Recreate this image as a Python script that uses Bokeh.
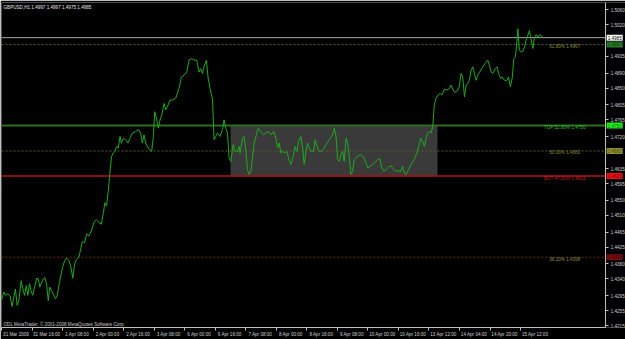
from bokeh.plotting import figure
from bokeh.models import Range1d, LinearAxis, FixedTicker, Label, PrintfTickFormatter, BoxAnnotation
from bokeh.embed import file_html
from bokeh.resources import INLINE
from bokeh.core.properties import value

# ---------------- data ----------------
symbol_title = "GBPUSD,H1  1.4997 1.4997 1.4975 1.4985"
copyright_text = "ODL MetaTrader, \u00a9 2001-2008 MetaQuotes Software Corp."

hour_index = [
    0, 1.2, 2.1, 3.3, 4.4, 5.6, 6.5, 7.3, 8.2, 9.1,
    10.3, 11.2, 12.1, 13.0, 13.8, 14.7, 15.6, 16.4, 17.5, 18.4,
    19.3, 20.1, 21.0, 21.9, 22.7, 23.6, 24.5, 25.3, 26.6, 27.4,
    28.3, 29.2, 30.4, 31.8, 33.1, 34.1, 35.3, 36.2, 37.4, 38.3,
    39.4, 40.6, 41.5, 42.3, 43.6, 44.6, 45.8, 47.1, 48.4, 49.7,
    51.1, 52.3, 53.4, 54.2, 55.1, 56.0, 56.8, 57.7, 58.6, 59.4,
    60.3, 61.2, 62.1, 62.8, 63.9, 65.1, 66.3, 67.3, 68.6, 70.3,
    71.7, 72.9, 73.8, 74.7, 75.6, 76.8, 77.8, 78.7, 79.6, 80.3,
    81.2, 82.2, 83.1, 84.0, 85.2, 86.1, 86.9, 88.3, 89.6, 91.3,
    93.0, 94.3, 95.7, 97.1, 98.3, 99.7, 100.9, 102.3, 103.5, 104.4,
    105.3, 106.1, 107.4, 108.2, 109.3, 110.6, 111.4, 112.3, 113.2, 114.5,
    115.8, 116.6, 117.5, 118.4, 119.3, 120.2, 121.4, 122.4, 123.7, 124.5,
    125.0, 126.3, 127.1, 128.0, 128.9, 129.8, 130.7, 131.5, 132.4, 133.6,
    134.5, 135.9, 137.3, 138.5, 139.9, 141.1, 142.6, 143.8, 144.7, 145.5,
    146.4, 147.3, 148.5, 149.5, 150.7, 151.6, 152.5, 153.9, 154.8, 155.7,
    156.9, 157.8, 158.6, 159.5, 160.4, 161.2, 162.1, 163.5, 164.4, 165.3,
    166.5, 167.7, 169.1, 170.5, 171.7, 173.0, 173.8, 174.4, 175.3, 176.1,
    177.0, 177.9, 178.8, 179.6, 180.5, 181.4, 182.2, 183.1, 184.0, 184.9,
    185.7, 186.6, 188.0, 189.3, 190.1, 191.0, 191.9, 193.2, 194.5, 195.7,
    197.1, 198.3, 199.2, 200.3, 201.5, 202.9, 204.1, 205.5, 206.7, 207.9,
    209.0, 210.2, 211.1, 212.0, 212.9, 214.6, 216.3, 217.7, 218.9, 219.8,
    220.7, 221.6, 222.5, 223.4, 224.2, 225.1, 226.0, 226.8, 227.7, 228.9,
    230.0, 230.9, 232.1, 233.5, 234.7, 235.6, 236.5, 237.3, 238.2, 239.1,
    239.9, 240.8, 241.7, 242.6, 243.5, 244.4, 245.2, 246.1, 247.0, 247.8,
    248.7, 249.6, 250.8, 252.2, 253.4, 254.8, 255.7, 256.6, 257.5, 258.7,
    259.7, 260.6, 261.5, 262.4, 263.6, 265.0, 265.7, 266.7, 267.6, 268.5,
    269.3, 270.1, 270.6, 271.4, 272.3, 273.2, 274.1, 274.9, 275.8, 276.7,
    277.6, 278.5, 279.3, 280.2, 281.1, 281.9, 282.8, 283.7,
]

close = [
    1.4282, 1.4305, 1.4296, 1.4300, 1.4296, 1.4266, 1.4292, 1.4313, 1.4269, 1.4282,
    1.4335, 1.4313, 1.4296, 1.4322, 1.4296, 1.4327, 1.4305, 1.4296, 1.4322, 1.4342,
    1.4340, 1.4318, 1.4331, 1.4340, 1.4344, 1.4327, 1.4282, 1.4318, 1.4305, 1.4296,
    1.4287, 1.4296, 1.4331, 1.4367, 1.4389, 1.4396, 1.4389, 1.4375, 1.4342, 1.4380,
    1.4393, 1.4398, 1.4420, 1.4439, 1.4437, 1.4460, 1.4455, 1.4468, 1.4491, 1.4498,
    1.4491, 1.4486, 1.4517, 1.4544, 1.4535, 1.4579, 1.4623, 1.4668, 1.4677, 1.4681,
    1.4694, 1.4690, 1.4721, 1.4703, 1.4716, 1.4712, 1.4703, 1.4716, 1.4730, 1.4734,
    1.4739, 1.4730, 1.4703, 1.4725, 1.4703, 1.4690, 1.4685, 1.4681, 1.4721, 1.4787,
    1.4770, 1.4743, 1.4765, 1.4778, 1.4809, 1.4792, 1.4800, 1.4818, 1.4818, 1.4823,
    1.4849, 1.4880, 1.4885, 1.4893, 1.4925, 1.4929, 1.4925, 1.4925, 1.4893, 1.4902,
    1.4889, 1.4907, 1.4925, 1.4880, 1.4849, 1.4818, 1.4712, 1.4721, 1.4730, 1.4721,
    1.4739, 1.4765, 1.4743, 1.4730, 1.4663, 1.4654, 1.4699, 1.4681, 1.4681, 1.4694,
    1.4677, 1.4716, 1.4721, 1.4685, 1.4632, 1.4619, 1.4628, 1.4663, 1.4703, 1.4725,
    1.4743, 1.4734, 1.4725, 1.4730, 1.4734, 1.4725, 1.4734, 1.4716, 1.4690, 1.4703,
    1.4677, 1.4681, 1.4677, 1.4681, 1.4659, 1.4646, 1.4659, 1.4694, 1.4681, 1.4707,
    1.4721, 1.4690, 1.4646, 1.4681, 1.4703, 1.4690, 1.4681, 1.4681, 1.4712, 1.4694,
    1.4681, 1.4681, 1.4690, 1.4703, 1.4712, 1.4721, 1.4730, 1.4743, 1.4721, 1.4659,
    1.4654, 1.4672, 1.4681, 1.4654, 1.4716, 1.4703, 1.4668, 1.4619, 1.4628, 1.4659,
    1.4663, 1.4668, 1.4672, 1.4668, 1.4663, 1.4650, 1.4637, 1.4641, 1.4646, 1.4652,
    1.4659, 1.4661, 1.4637, 1.4628, 1.4632, 1.4639, 1.4643, 1.4632, 1.4628, 1.4630,
    1.4626, 1.4641, 1.4623, 1.4619, 1.4628, 1.4646, 1.4659, 1.4677, 1.4699, 1.4716,
    1.4707, 1.4694, 1.4716, 1.4730, 1.4734, 1.4730, 1.4747, 1.4805, 1.4823, 1.4832,
    1.4836, 1.4832, 1.4847, 1.4845, 1.4849, 1.4858, 1.4847, 1.4840, 1.4839, 1.4845,
    1.4854, 1.4889, 1.4880, 1.4827, 1.4858, 1.4863, 1.4871, 1.4898, 1.4907, 1.4889,
    1.4871, 1.4885, 1.4895, 1.4907, 1.4916, 1.4925, 1.4911, 1.4893, 1.4889, 1.4902,
    1.4907, 1.4887, 1.4876, 1.4880, 1.4871, 1.4871, 1.4880, 1.4854, 1.4876, 1.4929,
    1.4933, 1.4973, 1.5009, 1.4951, 1.4947, 1.4948, 1.4960, 1.4978, 1.4991, 1.5004,
    1.4978, 1.4956, 1.4986, 1.4993, 1.4986, 1.4993, 1.4991, 1.4985,
]

date_tick_hours = [0, 16, 32, 48, 64, 80, 96, 112, 128, 144, 160, 176, 192, 208, 224, 240, 256, 272]
date_tick_labels = ["31 Mar 2009", "31 Mar 16:00", "1 Apr 08:00", "2 Apr 00:00", "2 Apr 16:00",
                    "3 Apr 08:00", "6 Apr 00:00", "6 Apr 16:00", "7 Apr 08:00", "8 Apr 00:00",
                    "8 Apr 16:00", "9 Apr 08:00", "10 Apr 00:00", "10 Apr 16:00", "13 Apr 12:00",
                    "14 Apr 04:00", "14 Apr 20:00", "15 Apr 12:00"]

price_ticks = [1.5060, 1.5020, 1.4935, 1.4890, 1.4850, 1.4805, 1.4765, 1.4720, 1.4635,
               1.4595, 1.4550, 1.4510, 1.4465, 1.4425, 1.4380, 1.4340, 1.4295, 1.4255, 1.4215]

fib_names = ["61.80%", "TOP 52.80%", "50.00%", "BOT 47.20%", "38.20%"]
fib_prices = [1.4967, 1.4750, 1.4682, 1.4615, 1.4398]
current_price = 1.4985
range_box_hours = [120.0, 228.5]

# ---------------- styles ----------------
FONT = "Liberation Sans"
FS = "4.6px"
fib_line_colors = ["#5a6424", "#2f6e1f", "#5c5c26", "#b01212", "#6a2a18"]
fib_line_widths = [1, 2, 1, 1.5, 1]
fib_line_dash = ["2 2", "solid", "2 2", "solid", "2 2"]
fib_text_colors = ["#8c8c3c", "#33bb33", "#86863e", "#c42020", "#8c8c3c"]
box_bg = ["#ffffff", "#2a7a2a", "#22ee22", "#8e8e2e", "#ee1111", "#7a1010"]
box_fg = ["#000000", "#0c380c", "#0e700e", "#4a4a10", "#7a0000", "#3a0000"]

# chart area (hours) and the price-scale column to its right, all in one frame
X0, AXIS_X, X1 = 0, 316.6, 327.0
Y0, Y1 = 1.4210, 1.5079

p = figure(width=625, height=339, output_backend="svg", toolbar_location=None,
           x_range=Range1d(X0, X1), y_range=Range1d(Y0, Y1),
           x_axis_location=None, y_axis_location=None,
           background_fill_color="#000000", border_fill_color="#000000",
           min_border_left=1, min_border_top=2, min_border_right=0, min_border_bottom=10)
p.grid.visible = False
p.outline_line_color = None

# chart border (top / left)
p.add_layout(BoxAnnotation(left=X0, right=AXIS_X, top=Y1, bottom=Y0, fill_alpha=0,
                           line_color="#b4b4b4", line_width=1))

# right price axis, drawn at the chart's right edge
yaxis = LinearAxis(ticker=FixedTicker(ticks=price_ticks), fixed_location=AXIS_X,
                   formatter=PrintfTickFormatter(format="%.4f"),
                   axis_line_color="#c0c0c0", major_tick_line_color="#c0c0c0",
                   major_tick_out=3, major_tick_in=0, minor_tick_line_color=None,
                   major_label_standoff=2, major_label_text_color="#d0d0d0",
                   major_label_text_font=FONT, major_label_text_font_size=FS)
p.add_layout(yaxis, "right")

# bottom time axis: tick marks as minor ticks, labels placed right of each tick
shift = 7.6
label_pos = [h + shift for h in date_tick_hours]
xaxis = LinearAxis(ticker=FixedTicker(ticks=label_pos, minor_ticks=date_tick_hours),
                   bounds=(X0, AXIS_X),
                   axis_line_color="#c0c0c0",
                   major_tick_line_color=None, major_tick_out=0, major_tick_in=0,
                   minor_tick_line_color="#c0c0c0", minor_tick_out=3, minor_tick_in=0,
                   major_label_standoff=1, major_label_text_color="#d0d0d0",
                   major_label_text_font=FONT, major_label_text_font_size=FS,
                   major_label_overrides={pos: lab for pos, lab in zip(label_pos, date_tick_labels)})
p.add_layout(xaxis, "below")

# range box
p.quad(left=[range_box_hours[0]], right=[range_box_hours[1]],
       top=[fib_prices[1]], bottom=[fib_prices[3]],
       fill_color="#3a3a3a", fill_alpha=1.0, line_color="#1c1c1c", line_width=1)

# horizontal levels across the chart area
p.segment(x0=[X0], x1=[AXIS_X], y0=[current_price], y1=[current_price],
          line_color="#a8a8a8", line_width=1)
for pr, c, w, d in zip(fib_prices, fib_line_colors, fib_line_widths, fib_line_dash):
    p.segment(x0=[X0], x1=[AXIS_X], y0=[pr], y1=[pr], line_color=c, line_width=w, line_dash=d)

# price line
p.line(hour_index, close, line_color="#1faa1f", line_width=1)

# fib texts
p.text(x=[295.5] * len(fib_prices), y=fib_prices,
       text=[f"{n}  {v:.4f}" for n, v in zip(fib_names, fib_prices)],
       text_color=fib_text_colors, text_align="center", text_baseline="middle",
       y_offset=2, text_font=value(FONT), text_font_size=FS)

# price boxes on the price scale
box_prices = [current_price] + fib_prices
for pr, bg, fg in zip(box_prices, box_bg, box_fg):
    p.add_layout(Label(x=AXIS_X, y=pr, x_offset=1, text=f"{pr:.4f}", text_baseline="middle",
                       text_align="left", text_color=fg, text_font=FONT, text_font_size=FS,
                       background_fill_color=bg, padding=1))

# title & copyright
p.add_layout(Label(x=X0, y=Y1, x_offset=2, y_offset=-2, text=symbol_title,
                   text_baseline="top", text_color="#e6e6e6", text_font=FONT, text_font_size=FS))
p.add_layout(Label(x=X0, y=Y0, x_offset=2, y_offset=1, text=copyright_text,
                   text_baseline="bottom", text_color="#c8c8c8", text_font=FONT, text_font_size=FS))

open("out.html", "w").write(file_html(p, INLINE))
